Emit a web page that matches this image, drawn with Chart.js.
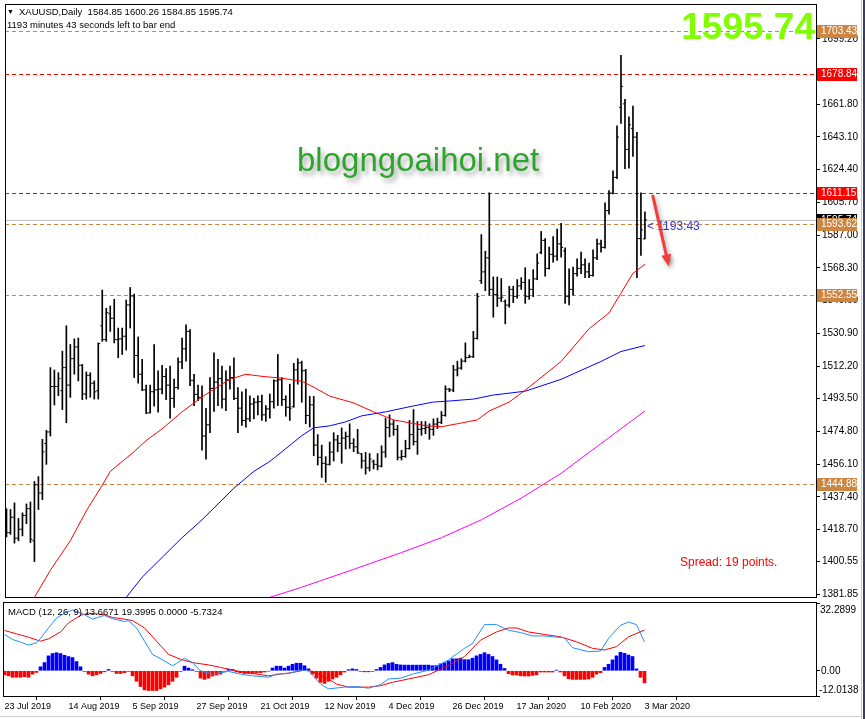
<!DOCTYPE html>
<html>
<head>
<meta charset="utf-8">
<script src="https://cdn.jsdelivr.net/npm/chart.js@4.4.1/dist/chart.umd.min.js"></script>
<style>
  html, body { margin: 0; padding: 0; background: #fff; }
  #wrap { position: relative; width: 865px; height: 719px; overflow: hidden; background: #fff; }
  #mainChart { position: absolute; left: 0; top: 0; }
  #macdChart { position: absolute; left: 0; top: 601px; }
  #edgeR1 { position: absolute; left: 861px; top: 0; width: 1px; height: 719px; background: #c8c8c8; }
  #edgeR2 { position: absolute; left: 863px; top: 0; width: 2px; height: 719px; background: #3c3c5c; }
  #edgeB { position: absolute; left: 0; top: 716px; width: 862px; height: 1px; background: #d0d0d0; }
</style>
</head>
<body>
<div id="wrap">
  <canvas id="mainChart" width="865" height="602"></canvas>
  <canvas id="macdChart" width="865" height="118"></canvas>
  <div id="edgeR1"></div><div id="edgeR2"></div><div id="edgeB"></div>
</div>
<script>
// daily bars, 23 Jul 2019 (index 0) .. 3 Mar 2020 (index 160)
const opens = [
  1418.0, 1417.0, 1425.8, 1413.8, 1418.9, 1426.8, 1430.7, 1412.3, 1444.3, 1439.6,
  1467.9, 1474.5, 1500.5, 1500.5, 1498.1, 1511.3, 1501.3, 1516.4, 1523.1, 1512.6,
  1496.2, 1506.9, 1502.4, 1498.1, 1535.2, 1527.3, 1542.0, 1539.5, 1527.3, 1527.7,
  1529.2, 1547.1, 1552.2, 1518.2, 1507.5, 1498.6, 1485.4, 1497.5, 1498.6, 1499.0,
  1506.2, 1501.3, 1493.7, 1499.9, 1514.5, 1522.0, 1532.0, 1504.0, 1496.0, 1494.3,
  1472.2, 1478.6, 1499.4, 1503.0, 1505.0, 1493.3, 1504.3, 1505.6, 1493.7, 1488.1,
  1481.1, 1482.0, 1490.5, 1491.5, 1491.8, 1484.3, 1487.7, 1491.8, 1503.7, 1504.3,
  1493.0, 1488.6, 1489.0, 1510.0, 1514.0, 1509.5, 1483.9, 1490.0, 1467.0, 1460.0,
  1456.6, 1456.0, 1463.0, 1470.0, 1468.0, 1471.0, 1472.0, 1468.0, 1466.0, 1462.0,
  1458.0, 1454.0, 1457.5, 1456.0, 1455.0, 1463.0, 1477.0, 1479.0, 1476.0, 1460.0,
  1460.5, 1465.0, 1473.0, 1469.0, 1476.0, 1476.5, 1477.0, 1476.0, 1479.0, 1480.0,
  1484.0, 1499.0, 1498.5, 1510.0, 1511.0, 1515.0, 1517.0, 1517.5, 1528.0, 1561.0,
  1566.0, 1574.0, 1556.0, 1553.0, 1551.0, 1549.0, 1547.0, 1556.0, 1552.0, 1558.0,
  1560.0, 1552.0, 1556.0, 1562.0, 1577.0, 1584.0, 1568.0, 1576.0, 1575.0, 1582.0,
  1578.0, 1552.0, 1556.0, 1565.0, 1568.0, 1570.0, 1566.0, 1564.0, 1574.0, 1582.0,
  1580.0, 1601.0, 1611.0, 1620.0, 1660.0, 1662.0, 1636.0, 1648.0, 1643.0, 1585.0,
  1584.85
];
const highs = [
  1430.6, 1430.2, 1434.0, 1425.1, 1428.3, 1433.4, 1434.5, 1446.2, 1449.0, 1470.3,
  1475.4, 1511.3, 1509.9, 1508.4, 1520.7, 1535.2, 1524.5, 1527.7, 1528.2, 1513.1,
  1508.8, 1508.4, 1503.7, 1525.4, 1555.6, 1545.2, 1546.5, 1550.3, 1533.9, 1533.9,
  1549.9, 1557.1, 1553.3, 1528.8, 1516.0, 1501.3, 1501.3, 1524.5, 1509.4, 1512.6,
  1510.7, 1512.2, 1504.7, 1516.9, 1528.2, 1535.8, 1533.0, 1507.5, 1501.3, 1500.9,
  1488.0, 1505.6, 1519.7, 1516.0, 1512.2, 1509.4, 1512.2, 1516.9, 1499.9, 1497.5,
  1499.0, 1495.2, 1493.7, 1495.2, 1495.6, 1489.6, 1496.2, 1504.3, 1518.8, 1505.6,
  1495.2, 1501.8, 1513.7, 1516.4, 1515.0, 1510.3, 1494.9, 1494.9, 1473.0, 1467.0,
  1460.4, 1468.8, 1474.1, 1472.6, 1476.8, 1474.5, 1479.2, 1470.7, 1476.0, 1462.2,
  1462.8, 1462.2, 1458.5, 1462.2, 1466.6, 1482.4, 1484.3, 1481.1, 1478.3, 1464.1,
  1469.8, 1481.1, 1487.3, 1480.5, 1480.5, 1480.5, 1479.2, 1482.0, 1482.4, 1486.2,
  1500.9, 1499.4, 1512.6, 1515.0, 1516.3, 1525.4, 1518.5, 1532.0, 1553.7, 1587.3,
  1577.8, 1611.2, 1563.1, 1563.1, 1562.2, 1550.0, 1557.8, 1557.8, 1561.6, 1562.7,
  1568.4, 1561.6, 1567.3, 1576.3, 1589.1, 1585.0, 1580.1, 1586.1, 1590.5, 1593.7,
  1579.7, 1567.8, 1568.8, 1573.5, 1577.3, 1573.5, 1571.0, 1578.6, 1584.8, 1584.2,
  1605.5, 1612.5, 1623.8, 1649.5, 1689.8, 1664.6, 1654.6, 1660.8, 1645.7, 1611.2,
  1600.26
];
const lows = [
  1414.5, 1416.0, 1411.0, 1412.3, 1415.1, 1422.1, 1411.3, 1400.4, 1430.2, 1435.8,
  1456.0, 1472.2, 1489.9, 1495.2, 1487.3, 1479.8, 1494.3, 1507.5, 1503.7, 1493.0,
  1493.3, 1494.3, 1493.3, 1493.3, 1526.3, 1526.3, 1532.0, 1525.4, 1516.9, 1518.8,
  1521.3, 1533.9, 1505.6, 1502.4, 1498.1, 1484.9, 1485.4, 1489.2, 1485.8, 1496.2,
  1493.0, 1482.4, 1488.6, 1499.0, 1510.7, 1515.0, 1500.9, 1489.6, 1492.4, 1464.1,
  1459.0, 1474.1, 1486.2, 1489.6, 1488.1, 1486.7, 1499.0, 1493.0, 1474.1, 1478.3,
  1477.3, 1480.5, 1482.0, 1484.3, 1481.1, 1480.5, 1482.4, 1488.1, 1489.6, 1489.6,
  1483.5, 1481.1, 1488.6, 1501.8, 1491.5, 1479.2, 1477.3, 1460.9, 1455.6, 1448.5,
  1445.8, 1455.6, 1457.9, 1463.2, 1456.6, 1464.7, 1465.1, 1463.2, 1462.2, 1453.8,
  1450.4, 1452.2, 1453.4, 1452.8, 1454.5, 1460.0, 1471.7, 1472.6, 1458.5, 1458.5,
  1460.0, 1464.7, 1467.0, 1461.7, 1472.6, 1473.5, 1470.3, 1472.6, 1476.4, 1479.2,
  1483.5, 1497.5, 1497.5, 1506.5, 1510.3, 1514.5, 1516.9, 1517.0, 1527.5, 1559.3,
  1555.2, 1552.7, 1540.1, 1546.2, 1549.0, 1536.3, 1545.8, 1548.4, 1550.9, 1555.9,
  1548.0, 1550.3, 1551.8, 1561.5, 1576.3, 1563.5, 1567.5, 1571.6, 1572.5, 1574.4,
  1548.0, 1547.1, 1552.7, 1563.5, 1565.0, 1562.7, 1562.7, 1563.5, 1572.9, 1577.3,
  1579.5, 1598.9, 1610.5, 1619.3, 1650.8, 1625.0, 1625.3, 1631.9, 1562.7, 1575.4,
  1584.85
];
const closes = [
  1417.0, 1425.8, 1413.8, 1418.9, 1426.8, 1430.7, 1413.2, 1444.3, 1439.6, 1463.2,
  1474.5, 1500.5, 1500.5, 1505.0, 1511.3, 1501.3, 1516.4, 1523.1, 1512.6, 1496.2,
  1506.9, 1502.4, 1497.5, 1525.0, 1527.3, 1542.8, 1539.5, 1527.3, 1527.7, 1529.2,
  1547.1, 1552.2, 1518.2, 1507.5, 1498.6, 1485.4, 1497.5, 1498.6, 1499.0, 1506.2,
  1501.3, 1493.7, 1499.9, 1514.5, 1522.0, 1532.0, 1504.0, 1496.0, 1494.3, 1472.2,
  1478.6, 1499.4, 1503.0, 1505.0, 1493.3, 1504.3, 1505.6, 1493.7, 1488.1, 1481.1,
  1482.0, 1490.5, 1491.5, 1491.8, 1484.3, 1487.7, 1491.8, 1503.7, 1504.3, 1493.0,
  1488.6, 1488.1, 1510.0, 1514.0, 1509.5, 1483.9, 1490.0, 1467.0, 1460.0, 1456.6,
  1456.0, 1463.0, 1470.0, 1468.0, 1471.0, 1472.0, 1468.0, 1466.0, 1462.5, 1458.0,
  1454.0, 1459.0, 1456.0, 1455.0, 1463.0, 1477.0, 1479.0, 1476.0, 1460.0, 1460.5,
  1465.0, 1473.0, 1469.0, 1476.0, 1476.5, 1477.0, 1476.0, 1479.0, 1480.0, 1484.0,
  1499.0, 1498.5, 1510.0, 1511.0, 1515.0, 1517.0, 1517.5, 1528.0, 1552.0, 1566.0,
  1574.0, 1556.0, 1553.0, 1551.0, 1551.5, 1547.0, 1556.0, 1552.0, 1558.0, 1560.0,
  1552.0, 1556.0, 1562.0, 1571.0, 1584.0, 1568.0, 1576.0, 1575.0, 1582.0, 1580.0,
  1552.0, 1556.0, 1565.0, 1568.0, 1570.0, 1566.0, 1564.0, 1574.0, 1582.0, 1580.0,
  1601.0, 1611.0, 1620.0, 1643.0, 1672.0, 1636.0, 1650.0, 1643.0, 1585.0, 1590.0,
  1595.74
];

// moving averages at sample bars
const maFastIdx = [7, 11, 16, 20, 24, 26, 32, 35, 39, 44, 49, 52, 56, 60, 64, 69, 74, 77, 81, 87, 92, 97, 105, 109, 113, 118, 121, 126, 130, 139, 146, 151, 154, 157, 160];
const maFastVal = [1380.0, 1395.5, 1412.4, 1429.4, 1444.1, 1452.0, 1463.3, 1469.6, 1476.3, 1486.0, 1494.5, 1499.0, 1504.6, 1507.5, 1506.3, 1505.2, 1503.5, 1500.1, 1495.0, 1491.1, 1486.0, 1481.4, 1478.1, 1477.5, 1479.2, 1481.4, 1486.5, 1491.6, 1498.4, 1514.8, 1533.5, 1542.5, 1553.8, 1565.2, 1570.3];
const maMidIdx = [30, 34, 39, 44, 49, 57, 62, 66, 70, 74, 77, 81, 85, 89, 95, 102, 107, 111, 117, 122, 130, 139, 149, 154, 160];
const maMidVal = [1380.0, 1391.5, 1402.8, 1414.1, 1424.3, 1442.4, 1452.0, 1457.7, 1465.0, 1472.4, 1476.9, 1478.0, 1480.3, 1483.7, 1486.0, 1489.4, 1491.6, 1492.2, 1493.3, 1495.6, 1497.8, 1504.6, 1514.8, 1520.5, 1523.9];
const maSlowIdx = [66, 74, 87, 99, 109, 119, 129, 139, 149, 160];
const maSlowVal = [1380.0, 1385.8, 1396.0, 1405.6, 1414.1, 1424.3, 1436.7, 1450.9, 1467.9, 1486.5];

// MACD (12, 26, 9)
const macdHist = [
  -1.9, -2.4, -3.1, -3.1, -3.1, -2.8, -3.1, -1.6, -0.8,
  1.9, 3.9, 7.1, 8.2, 8.6, 8.2, 7.4, 6.8, 6.3, 4.4, 1.9,
  -0.3, -1.6, -2.4, -1.9, -1.3, -0.5, 0.6,
  -0.3, -1.3, -1.3, -0.9, -0.3, -2.4, -5.0, -7.5, -9.1, -9.4, -9.4, -9.4, -8.6, -7.8, -6.6, -5.0, -3.1, -0.3,
  2.2, 1.3, 0.5,
  -0.3, -3.5, -4.1, -3.5, -2.5, -2.0, -1.6, -0.3,
  0.8, 0.6,
  -0.6, -0.9, -1.3, -1.3, -1.3, -1.1, -0.9, -0.6, -0.2,
  1.3, 2.2, 2.2, 1.3, 2.2, 3.1, 3.6, 3.6, 2.4, 0.9,
  -1.6, -3.5, -5.5, -6.0, -5.0, -3.9, -3.1, -1.9, -0.6,
  0.5, 0.9, 0.6,
  -0.3, -0.5, -0.5, -0.3,
  0.6, 1.6, 2.8, 3.5, 3.9, 3.1, 2.8, 2.7, 2.7, 2.7, 2.7, 2.7, 2.7, 2.7, 2.4, 2.5, 3.3,
  3.8, 4.7, 5.7, 5.7, 6.0, 5.3, 5.3, 6.0, 7.1, 7.8, 8.6, 7.8, 6.8, 5.2, 3.1, 1.1,
  -1.4, -2.0, -2.0, -2.4, -2.5, -2.5, -2.2, -1.9, -0.6, -0.6, -0.6, -0.6,
  0.3,
  -0.6, -2.4, -3.8, -4.1, -4.1, -4.1, -4.1, -3.9, -3.1, -1.6, -0.9,
  1.6, 3.1, 5.2, 7.1, 8.8, 8.3, 7.5, 6.8, 0.9,
  -3.1, -5.7324
];
const macdIdx = [0, 2, 4, 6, 8, 9, 11, 13, 15, 17, 20, 22, 25, 27, 30, 31, 33, 35, 37, 40, 42, 43, 45, 47, 49, 52, 56, 59, 62, 66, 68, 71, 74, 76, 79, 81, 85, 88, 91, 94, 96, 99, 102, 106, 111, 115, 117, 120, 123, 126, 129, 132, 135, 137, 140, 142, 146, 149, 151, 154, 156, 158, 160];
const macdVal = [17.3, 14.9, 13.7, 12.2, 13.3, 15.4, 20.4, 25.1, 27.5, 29.0, 26.7, 24.6, 26.4, 24.8, 23.5, 23.9, 20.4, 14.1, 7.8, 4.7, 2.4, 3.5, 6.0, 3.9, 0.0, -1.6, -0.3, -1.6, -2.4, -3.1, -1.6, -1.3, 0.3, 0.0, -6.3, -8.6, -7.8, -7.5, -8.3, -6.6, -3.9, -3.5, -1.6, 0.3, 5.2, 10.7, 13.0, 22.0, 22.0, 19.3, 18.2, 16.6, 16.6, 16.2, 15.7, 11.0, 9.1, 9.4, 15.4, 21.7, 23.2, 22.0, 13.6671];
const signalIdx = [0, 3, 6, 9, 11, 14, 16, 19, 21, 25, 27, 30, 32, 35, 38, 41, 44, 47, 51, 54, 57, 62, 66, 69, 72, 75, 77, 81, 83, 86, 91, 94, 97, 101, 106, 111, 115, 119, 123, 126, 128, 131, 135, 139, 143, 147, 150, 153, 156, 160];
const signalVal = [19.2, 17.6, 16.0, 14.1, 15.2, 18.5, 22.8, 26.4, 27.5, 26.7, 25.4, 24.6, 23.9, 20.4, 14.1, 7.8, 5.5, 3.9, 2.8, 1.6, 0.3, -1.3, -2.4, -1.6, -0.8, 0.3, -0.3, -3.9, -6.3, -7.8, -7.8, -7.1, -5.5, -3.9, -1.9, 2.5, 6.8, 14.6, 18.5, 20.4, 20.4, 18.5, 17.3, 16.2, 13.8, 10.7, 9.9, 11.5, 16.2, 19.3995];

// axes
const priceTicks = [1699.20, 1661.80, 1643.10, 1624.40, 1605.70, 1587.00, 1568.30, 1549.60, 1530.90, 1512.20, 1493.50, 1474.80, 1456.10, 1437.40, 1418.70, 1400.55, 1381.85];
const macdTicks = [32.2899, 0.0, -12.0138];
const dateIdx = [0, 16, 32, 48, 64, 80, 96, 112, 128, 144, 160];
const dateLabels = ['23 Jul 2019', '14 Aug 2019', '5 Sep 2019', '27 Sep 2019', '21 Oct 2019', '12 Nov 2019', '4 Dec 2019', '26 Dec 2019', '17 Jan 2020', '10 Feb 2020', '3 Mar 2020'];

// horizontal levels and tags
const levelPrices = [1703.43, 1678.84, 1611.15, 1593.62, 1552.55, 1444.88];
const levelColors = ['#CD853F', '#FF0000', '#FF0000', '#CD853F', '#CD853F', '#CD853F'];
const bidPrice = 1595.74;
const arrowFrom = [162, 1609.3];
const arrowTo = [166, 1569.1];

const FONT = '"Liberation Sans", Arial, sans-serif';
const pts = (idx, val) => idx.map((x, k) => ({ x: x, y: val[k] }));

function drawFrame(chart) {
  const { ctx, chartArea: a } = chart;
  ctx.save();
  ctx.strokeStyle = '#000';
  ctx.lineWidth = 1;
  ctx.strokeRect(a.left + 0.5, a.top - 0.5, a.right - a.left, a.bottom - a.top + 1);
  ctx.restore();
}

function drawArrow(ctx, x1, y1, x2, y2) {
  const ang = Math.atan2(y2 - y1, x2 - x1);
  const hl = 12, hw = 5;
  const c = Math.cos(ang), s = Math.sin(ang);
  ctx.beginPath();
  ctx.moveTo(x1, y1);
  ctx.lineTo(x2 - c * hl * 0.7, y2 - s * hl * 0.7);
  ctx.stroke();
  ctx.beginPath();
  ctx.moveTo(x2, y2);
  ctx.lineTo(x2 - hl * c + hw * s, y2 - hl * s - hw * c);
  ctx.lineTo(x2 - hl * c - hw * s, y2 - hl * s + hw * c);
  ctx.closePath();
  ctx.fill();
}

const mainOverlay = {
  id: 'mainOverlay',
  beforeDatasetsDraw(chart) {
    const { ctx, chartArea: a, scales: { y } } = chart;
    ctx.save();
    // watermark
    ctx.font = '33px ' + FONT;
    ctx.fillStyle = '#2DA52D';
    ctx.shadowColor = 'rgba(0,0,0,0.35)';
    ctx.shadowBlur = 5;
    ctx.shadowOffsetX = 3;
    ctx.shadowOffsetY = 4;
    ctx.textBaseline = 'alphabetic';
    ctx.fillText('blogngoaihoi.net', 297, 171);
    ctx.restore();

    ctx.save();
    ctx.beginPath();
    ctx.rect(a.left, a.top, a.right - a.left, a.bottom - a.top);
    ctx.clip();
    ctx.lineWidth = 1;
    const yb = Math.round(y.getPixelForValue(bidPrice)) + 0.5;
    ctx.strokeStyle = '#C0C0C0';
    ctx.beginPath(); ctx.moveTo(a.left, yb); ctx.lineTo(a.right, yb); ctx.stroke();
    ctx.setLineDash([4, 3]);
    levelPrices.forEach((v, k) => {
      const yy = Math.round(y.getPixelForValue(v)) + 0.5;
      ctx.strokeStyle = levelColors[k];
      ctx.beginPath(); ctx.moveTo(a.left, yy); ctx.lineTo(a.right, yy); ctx.stroke();
    });
    ctx.restore();
  },
  afterDraw(chart) {
    const { ctx, chartArea: a, scales: { x, y } } = chart;
    drawFrame(chart);
    ctx.save();
    // price tags on the axis
    ctx.font = '10px ' + FONT;
    ctx.textBaseline = 'middle';
    const tag = (v, bg) => {
      const yy = Math.round(y.getPixelForValue(v));
      ctx.fillStyle = bg;
      ctx.fillRect(a.right + 1, yy - 6, 40, 13);
      ctx.fillStyle = '#fff';
      ctx.fillText(v.toFixed(2), a.right + 5, yy + 0.5);
    };
    tag(bidPrice, '#000');
    levelPrices.forEach((v, k) => tag(v, levelColors[k]));

    // header text
    ctx.fillStyle = '#000';
    ctx.font = '7px ' + FONT;
    ctx.textBaseline = 'alphabetic';
    ctx.fillText('\u25BC', 7, 14);
    ctx.font = '9.5px ' + FONT;
    ctx.fillText('XAUUSD,Daily  1584.85 1600.26 1584.85 1595.74', 19, 15);
    ctx.fillText('1193 minutes 43 seconds left to bar end', 7, 28);

    // countdown next to the last bar
    ctx.fillStyle = '#2F2FF0';
    ctx.font = '12px ' + FONT;
    ctx.textBaseline = 'top';
    ctx.fillText('< 1193:43', x.getPixelForValue(closes.length - 1) + 2, y.getPixelForValue(bidPrice) + 1);

    // spread
    ctx.fillStyle = '#FF0000';
    ctx.textBaseline = 'alphabetic';
    ctx.fillText('Spread: 19 points.', 680, 566);

    // big price
    ctx.fillStyle = '#80FF00';
    ctx.font = 'bold 37px ' + FONT;
    ctx.textAlign = 'right';
    ctx.fillText('1595.74', 815, 39);
    ctx.textAlign = 'left';

    // red arrow
    ctx.strokeStyle = '#F43C3C';
    ctx.fillStyle = '#F43C3C';
    ctx.lineWidth = 3;
    ctx.lineCap = 'round';
    ctx.shadowColor = 'rgba(0,0,0,0.35)';
    ctx.shadowBlur = 4;
    ctx.shadowOffsetX = 2;
    ctx.shadowOffsetY = 3;
    drawArrow(ctx,
      x.getPixelForValue(arrowFrom[0]), y.getPixelForValue(arrowFrom[1]),
      x.getPixelForValue(arrowTo[0]), y.getPixelForValue(arrowTo[1]));
    ctx.restore();
  }
};

const macdOverlay = {
  id: 'macdOverlay',
  afterDraw(chart) {
    const { ctx, chartArea: a, scales: { y } } = chart;
    drawFrame(chart);
    ctx.save();
    ctx.fillStyle = '#000';
    ctx.font = '9.5px ' + FONT;
    ctx.textBaseline = 'middle';
    ctx.fillText('MACD (12, 26, 9) 13.6671 19.3995 0.0000 -5.7324', 8, 11);
    ctx.font = '10px ' + FONT;
    ctx.fillText('32.2899', a.right + 4, a.top + 7);
    ctx.fillText('0.00', a.right + 5, y.getPixelForValue(0));
    ctx.fillText('-12.0138', a.right + 3, a.bottom - 6);
    ctx.restore();
  }
};

const xScale = { type: 'linear', min: -0.375, max: 202.875, offset: false };

const mainChart = new Chart(document.getElementById('mainChart'), {
  type: 'bar',
  data: {
    datasets: [
      { type: 'line', data: opens.map((v, i) => ({ x: i, y: v })), showLine: false,
        pointStyle: 'dash', pointRotation: 180, pointRadius: 2, pointBorderWidth: 1,
        pointBorderColor: '#000', pointBackgroundColor: '#000', order: 1 },
      { type: 'line', data: closes.map((v, i) => ({ x: i, y: v })), showLine: false,
        pointStyle: 'dash', pointRotation: 0, pointRadius: 2, pointBorderWidth: 1,
        pointBorderColor: '#000', pointBackgroundColor: '#000', order: 1 },
      { type: 'bar', data: highs.map((v, i) => ({ x: i, y: [lows[i], v] })),
        backgroundColor: '#000', barThickness: 1, borderWidth: 0, order: 2 },
      { type: 'line', data: pts(maFastIdx, maFastVal), borderColor: '#FF0000', borderWidth: 1, pointRadius: 0, order: 0 },
      { type: 'line', data: pts(maMidIdx, maMidVal), borderColor: '#0000FF', borderWidth: 1, pointRadius: 0, order: 0 },
      { type: 'line', data: pts(maSlowIdx, maSlowVal), borderColor: '#FF00FF', borderWidth: 1, pointRadius: 0, order: 0 }
    ]
  },
  options: {
    responsive: false,
    animation: false,
    events: [],
    layout: { padding: { left: 3, top: 2, right: 0, bottom: 2 } },
    plugins: { legend: { display: false }, tooltip: { enabled: false } },
    scales: {
      x: Object.assign({}, xScale, { display: false }),
      y: {
        position: 'right',
        min: 1380.2,
        max: 1718.5,
        afterBuildTicks: s => { s.ticks = priceTicks.map(v => ({ value: v })); },
        afterFit: s => { s.width = 49; s.paddingTop = 0; s.paddingBottom = 0; },
        ticks: { autoSkip: false, padding: 2, color: '#000', font: { family: 'Liberation Sans', size: 10 },
                 callback: v => v.toFixed(2) },
        grid: { drawOnChartArea: false, drawTicks: true, tickLength: 4, color: '#000' },
        border: { display: false }
      }
    }
  },
  plugins: [mainOverlay]
});

const macdChart = new Chart(document.getElementById('macdChart'), {
  type: 'bar',
  data: {
    datasets: [
      { type: 'line', data: pts(macdIdx, macdVal), borderColor: '#1E90FF', borderWidth: 1, pointRadius: 0, order: 0 },
      { type: 'line', data: pts(signalIdx, signalVal), borderColor: '#FF0000', borderWidth: 1, pointRadius: 0, order: 0 },
      { type: 'bar', data: macdHist.map((v, i) => ({ x: i, y: v })),
        backgroundColor: macdHist.map(v => v >= 0 ? '#0000FF' : '#FF0000'),
        barThickness: 3, borderWidth: 0, order: 1 }
    ]
  },
  options: {
    responsive: false,
    animation: false,
    events: [],
    layout: { padding: { left: 3, top: 2, right: 0, bottom: 3 } },
    plugins: { legend: { display: false }, tooltip: { enabled: false } },
    scales: {
      x: Object.assign({}, xScale, {
        position: 'bottom',
        afterBuildTicks: s => { s.ticks = dateIdx.map(v => ({ value: v })); },
        afterFit: s => { s.height = 20; s.paddingLeft = 0; s.paddingRight = 0; },
        ticks: { autoSkip: false, maxRotation: 0, minRotation: 0, align: 'start', padding: 1,
                 color: '#000', font: { family: 'Liberation Sans', size: 9 },
                 callback: (v, i) => dateLabels[i] },
        grid: { drawOnChartArea: false, drawTicks: true, tickLength: 4, color: '#000' },
        border: { display: false }
      }),
      y: {
        position: 'right',
        min: -12.0138,
        max: 32.2899,
        afterBuildTicks: s => { s.ticks = macdTicks.map(v => ({ value: v })); },
        afterFit: s => { s.width = 49; s.paddingTop = 0; s.paddingBottom = 0; },
        ticks: { display: false },
        grid: { drawOnChartArea: false, drawTicks: true, tickLength: 4, color: '#000' },
        border: { display: false }
      }
    }
  },
  plugins: [macdOverlay]
});
</script>
</body>
</html>
